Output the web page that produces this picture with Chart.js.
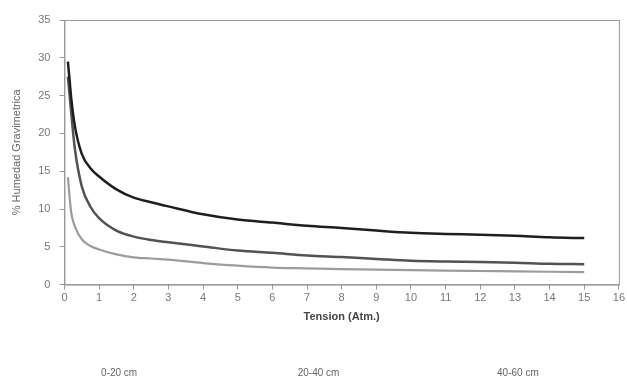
<!DOCTYPE html>
<html>
<head>
<meta charset="utf-8">
<script src="https://cdn.jsdelivr.net/npm/chart.js@4.4.0/dist/chart.umd.min.js"></script>
<style>
  html, body { margin: 0; padding: 0; background: #fff; }
  #wrap { width: 627px; height: 384px; }
</style>
</head>
<body>
<div id="wrap"><canvas id="HumedadChart" width="627" height="384"></canvas></div>
<script>
// tension values (Atm.)
const tension = [0.1, 0.15, 0.2, 0.3, 0.5, 0.75, 1, 1.5, 2, 2.5, 3, 4, 5, 6, 7, 8, 9, 10, 11, 12, 13, 14, 15];

// % humedad gravimetrica per depth
const depthLabels = ['0-20 cm', '20-40 cm', '40-60 cm'];
const humedad0_20 = [29.5, 27.0, 24.5, 21.0, 17.3, 15.4, 14.3, 12.6, 11.5, 10.9, 10.35, 9.3, 8.6, 8.2, 7.8, 7.5, 7.15, 6.85, 6.7, 6.6, 6.45, 6.25, 6.15];
const humedad20_40 = [27.5, 25.0, 22.5, 18.0, 13.0, 10.3, 8.8, 7.15, 6.35, 5.9, 5.6, 5.05, 4.5, 4.2, 3.85, 3.65, 3.4, 3.15, 3.05, 3.0, 2.9, 2.75, 2.7];
const humedad40_60 = [14.2, 11.5, 9.4, 7.7, 6.0, 5.1, 4.65, 4.0, 3.6, 3.45, 3.3, 2.85, 2.5, 2.25, 2.15, 2.05, 1.97, 1.92, 1.85, 1.8, 1.75, 1.7, 1.65];

const lineColors = ['#1e1e1e', '#525252', '#9c9c9c'];

function toPoints(vals) {
  return tension.map((t, i) => ({ x: t, y: vals[i] }));
}

// plot area frame + text-only legend at the bottom
const frameAndLegend = {
  id: 'frameAndLegend',
  afterDatasetsDraw(chart) {
    const { ctx, chartArea } = chart;
    ctx.save();
    ctx.strokeStyle = '#9a9a9a';
    ctx.lineWidth = 1;
    ctx.strokeRect(chartArea.left + 0.5, chartArea.top + 0.5,
      chartArea.right - chartArea.left, chartArea.bottom - chartArea.top);

    ctx.fillStyle = '#666';
    ctx.font = '10px "Liberation Sans", Arial, sans-serif';
    ctx.textAlign = 'center';
    ctx.textBaseline = 'middle';
    const w = chart.width;
    chart.data.datasets.forEach((ds, i) => {
      const cx = w * (0.19 + i * 0.318);
      ctx.fillText(ds.label, cx, 373);
    });
    ctx.restore();
  }
};

const ctx = document.getElementById('HumedadChart').getContext('2d');

new Chart(ctx, {
  type: 'line',
  data: {
    datasets: [
      { label: depthLabels[0], data: toPoints(humedad0_20), borderColor: lineColors[0], borderWidth: 2.5 },
      { label: depthLabels[1], data: toPoints(humedad20_40), borderColor: lineColors[1], borderWidth: 2.5 },
      { label: depthLabels[2], data: toPoints(humedad40_60), borderColor: lineColors[2], borderWidth: 2.2 }
    ].map(d => Object.assign(d, { pointRadius: 0, fill: false, cubicInterpolationMode: 'monotone' }))
  },
  options: {
    responsive: false,
    animation: false,
    layout: { padding: { top: 20, right: 8, bottom: 56, left: 6 } },
    plugins: {
      legend: { display: false },
      tooltip: { enabled: false }
    },
    scales: {
      x: {
        type: 'linear',
        min: 0,
        max: 16,
        ticks: { stepSize: 1, color: '#777', font: { size: 11, family: '"Liberation Sans", Arial' }, padding: 2 },
        grid: { display: true, drawOnChartArea: false, tickLength: 5, color: '#9a9a9a' },
        border: { color: '#9a9a9a' },
        title: {
          display: true,
          text: 'Tension (Atm.)',
          color: '#444',
          font: { size: 11, weight: 'bold', family: '"Liberation Sans", Arial' },
          padding: { top: 4 }
        }
      },
      y: {
        min: 0,
        max: 35,
        ticks: { stepSize: 5, color: '#777', font: { size: 11, family: '"Liberation Sans", Arial' }, padding: 9 },
        grid: { display: true, drawOnChartArea: false, tickLength: 5, color: '#9a9a9a' },
        border: { color: '#9a9a9a' },
        title: {
          display: true,
          text: '% Humedad Gravimetrica',
          color: '#666',
          font: { size: 11, family: '"Liberation Sans", Arial' },
          padding: { bottom: 6 }
        }
      }
    }
  },
  plugins: [frameAndLegend]
});
</script>
</body>
</html>
